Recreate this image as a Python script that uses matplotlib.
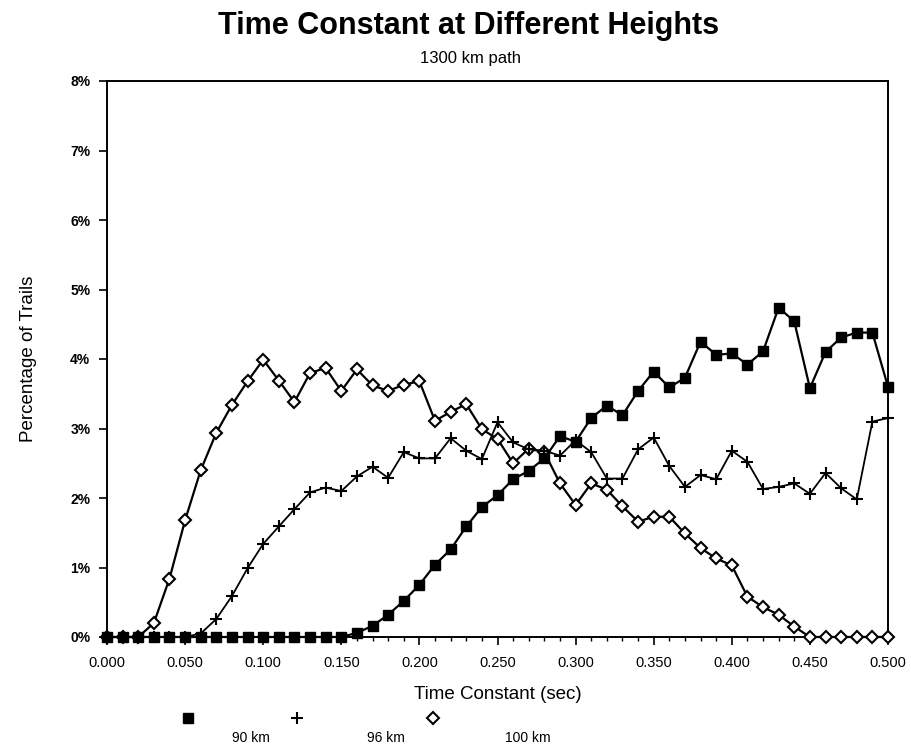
import numpy as np
import matplotlib
matplotlib.use("Agg")
import matplotlib.pyplot as plt
from matplotlib.lines import Line2D
from matplotlib.ticker import MultipleLocator, FuncFormatter

plt.rcParams['font.family'] = ['Liberation Sans', 'DejaVu Sans']

# time constant bins (sec)
time_const = np.linspace(0.0, 0.5, 51)

# percentage of trails per bin, by height
pct_90km = [0, 0, 0, 0, 0, 0, 0, 0, 0, 0, 0, 0, 0, 0, 0, 0,
            0.06, 0.16, 0.32, 0.52, 0.75, 1.04, 1.26, 1.59, 1.87, 2.04,
            2.27, 2.39, 2.57, 2.89, 2.81, 3.15, 3.33, 3.19, 3.54, 3.82,
            3.59, 3.73, 4.25, 4.06, 4.08, 3.92, 4.11, 4.74, 4.54, 3.58,
            4.10, 4.31, 4.38, 4.38, 3.60]
pct_96km = [0, 0, 0, 0, 0, 0,
            0.05, 0.26, 0.59, 0.99, 1.34, 1.59, 1.84, 2.08, 2.15, 2.10,
            2.31, 2.45, 2.29, 2.66, 2.57, 2.57, 2.86, 2.68, 2.56, 3.09,
            2.80, 2.70, 2.68, 2.61, 2.83, 2.66, 2.28, 2.28, 2.70, 2.87,
            2.46, 2.16, 2.33, 2.27, 2.68, 2.52, 2.13, 2.16, 2.21, 2.06,
            2.36, 2.14, 1.98, 3.10, 3.15]
pct_100km = [0, 0, 0,
             0.20, 0.84, 1.68, 2.40, 2.94, 3.34, 3.68, 3.99, 3.69, 3.38,
             3.80, 3.87, 3.54, 3.85, 3.62, 3.54, 3.63, 3.68, 3.11, 3.24,
             3.35, 2.99, 2.85, 2.50, 2.71, 2.66, 2.21, 1.90, 2.21, 2.12,
             1.88, 1.66, 1.73, 1.73, 1.49, 1.28, 1.13, 1.03, 0.58, 0.43,
             0.32, 0.15,
             0, 0, 0, 0, 0, 0]

labels = ["90 km", "96 km", "100 km"]

fig = plt.figure(figsize=(9.11, 7.48), dpi=100)
ax = fig.add_axes([107 / 911, 1 - 637 / 748, 781 / 911, 556 / 748])

style_100 = dict(marker='D', markersize=6, markerfacecolor='white',
                 markeredgecolor='black', markeredgewidth=1.5)
style_96 = dict(marker='+', markersize=8, markeredgewidth=1.5)
style_90 = dict(marker='s', markersize=7.5, markerfacecolor='black',
                markeredgecolor='black')

ax.plot(time_const, pct_100km, color='black', lw=1.6, zorder=3, **style_100)
ax.plot(time_const, pct_96km, color='black', lw=1.3, zorder=4, **style_96)
ax.plot(time_const, pct_90km, color='black', lw=1.6, zorder=5, **style_90)

ax.set_xlim(0, 0.5)
ax.set_ylim(0, 8)
ax.xaxis.set_major_locator(MultipleLocator(0.05))
ax.xaxis.set_minor_locator(MultipleLocator(0.01))
ax.yaxis.set_major_locator(MultipleLocator(1))
ax.xaxis.set_major_formatter(FuncFormatter(lambda v, p: f"{v:.3f}"))
ax.yaxis.set_major_formatter(FuncFormatter(lambda v, p: f"{v:.0f}%"))

ax.tick_params(axis='x', which='major', direction='out', length=6, width=1.2,
               labelsize=10.5, pad=8)
ax.tick_params(axis='x', which='minor', direction='out', length=3, width=1)
ax.tick_params(axis='y', direction='out', length=6, width=1.2,
               labelsize=10, pad=6)
for lbl in ax.get_yticklabels():
    lbl.set_fontweight('bold')
for sp in ax.spines.values():
    sp.set_linewidth(1.4)
for obj in ax.get_lines():
    obj.set_clip_on(False)

ax.set_xlabel("Time Constant (sec)", fontsize=13.5, labelpad=11)
ax.set_ylabel("Percentage of Trails", fontsize=13.5, labelpad=24)

fig.text(0.514, 0.965, "Time Constant at Different Heights", ha='center',
         va='center', fontsize=22, fontweight='bold')
fig.text(0.516, 0.922, "1300 km path", ha='center', va='center', fontsize=12)

# legend row under the x axis label
key_styles = [style_90, style_96, style_100]
key_x = [188, 297, 433]
text_x = [232, 367, 505]
for st, kx, tx, lab in zip(key_styles, key_x, text_x, labels):
    fig.add_artist(Line2D([kx / 911], [1 - 718 / 748], transform=fig.transFigure,
                          color='black', linestyle='none', **st))
    fig.text(tx / 911, 1 - 738 / 748, lab, ha='left', va='center', fontsize=10)

fig.savefig("out.png", dpi=100)
